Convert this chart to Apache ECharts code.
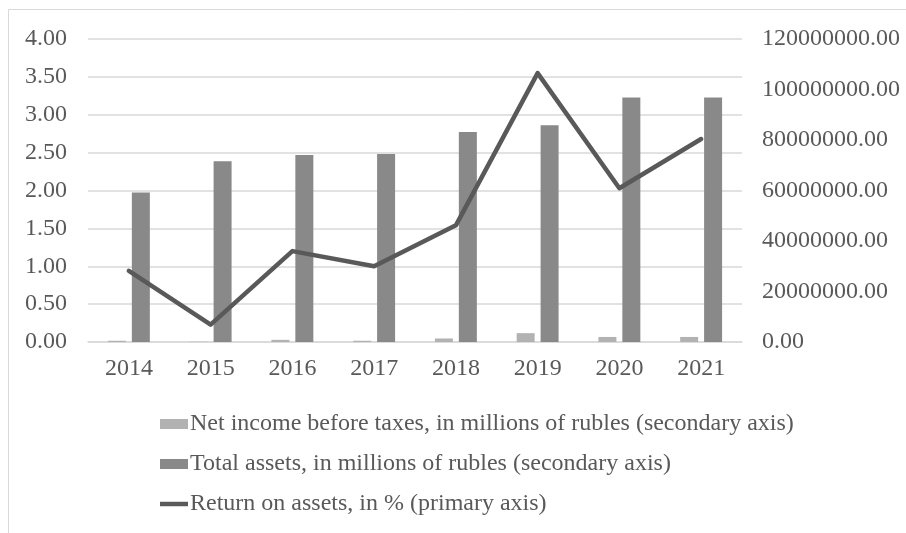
<!DOCTYPE html>
<html>
<head>
<meta charset="utf-8">
<script src="https://cdn.jsdelivr.net/npm/echarts@6/dist/echarts.min.js"></script>
<style>
html,body{margin:0;padding:0;background:#fff;}
#chart{width:906px;height:533px;}
</style>
</head>
<body>
<div id="chart"></div>
<script>
var categories = ['2014','2015','2016','2017','2018','2019','2020','2021'];
var netIncome = [500000, 100000, 850000, 500000, 1400000, 3500000, 2000000, 2000000];
var totalAssets = [59200000, 71600000, 74100000, 74500000, 83200000, 85800000, 96800000, 96800000];
var roa = [0.94, 0.23, 1.20, 1.00, 1.54, 3.55, 2.03, 2.68];
var leftTicks = {min: 0, max: 4, interval: 0.5};
var rightTicks = {min: 0, max: 120000000, interval: 20000000};
var seriesNames = [
  'Net income before taxes, in millions of rubles (secondary axis)',
  'Total assets, in millions of rubles (secondary axis)',
  'Return on assets, in % (primary axis)'
];

var font = '"Liberation Serif", "Times New Roman", serif';
var textColor = '#595959';
var chart = echarts.init(document.getElementById('chart'), null, {renderer: 'canvas'});
chart.setOption({
  animation: false,
  backgroundColor: '#ffffff',
  textStyle: {fontFamily: font, color: textColor},
  graphic: [{
    type: 'rect',
    shape: {x: 8.5, y: 9.5, width: 920, height: 540},
    style: {fill: 'none', stroke: '#d9d9d9', lineWidth: 1},
    silent: true
  }],
  grid: {left: 88, right: 164, top: 39, bottom: 191, containLabel: false},
  legend: {
    orient: 'vertical',
    left: 160,
    top: 412,
    padding: 0,
    itemWidth: 28,
    itemHeight: 10,
    itemGap: 16,
    symbolKeepAspect: true,
    textStyle: {fontFamily: font, fontSize: 24, color: textColor, padding: [0, 0, 0, -3]},
    data: [
      {name: seriesNames[0], icon: 'rect'},
      {name: seriesNames[1], icon: 'rect'},
      {name: seriesNames[2], icon: 'path://M0,0 L28,0 L28,4.5 L0,4.5 Z'}
    ]
  },
  xAxis: {
    type: 'category',
    data: categories,
    axisLine: {show: true, lineStyle: {color: '#d9d9d9', width: 1.5}},
    axisTick: {show: false},
    axisLabel: {fontFamily: font, fontSize: 24, color: textColor, margin: 15}
  },
  yAxis: [{
    type: 'value',
    min: leftTicks.min, max: leftTicks.max, interval: leftTicks.interval,
    position: 'left',
    axisLine: {show: false},
    axisTick: {show: false},
    splitLine: {show: true, lineStyle: {color: '#d9d9d9', width: 1.5}},
    axisLabel: {fontFamily: font, fontSize: 24, color: textColor, margin: 21,
      formatter: function (v) { return v.toFixed(2); }}
  }, {
    type: 'value',
    min: rightTicks.min, max: rightTicks.max, interval: rightTicks.interval,
    position: 'right',
    axisLine: {show: false},
    axisTick: {show: false},
    splitLine: {show: false},
    axisLabel: {fontFamily: font, fontSize: 24, color: textColor, margin: 20,
      formatter: function (v) { return v.toFixed(2); }}
  }],
  series: [{
    name: seriesNames[0],
    type: 'bar',
    yAxisIndex: 1,
    data: netIncome,
    barWidth: 18,
    barGap: '33%',
    itemStyle: {color: '#b2b2b2'}
  }, {
    name: seriesNames[1],
    type: 'bar',
    yAxisIndex: 1,
    data: totalAssets,
    barWidth: 18,
    barGap: '33%',
    itemStyle: {color: '#898989'}
  }, {
    name: seriesNames[2],
    type: 'line',
    yAxisIndex: 0,
    data: roa,
    symbol: 'none',
    lineStyle: {color: '#595959', width: 4.5, cap: 'round', join: 'round'},
    itemStyle: {color: '#595959'}
  }]
});
</script>
</body>
</html>
